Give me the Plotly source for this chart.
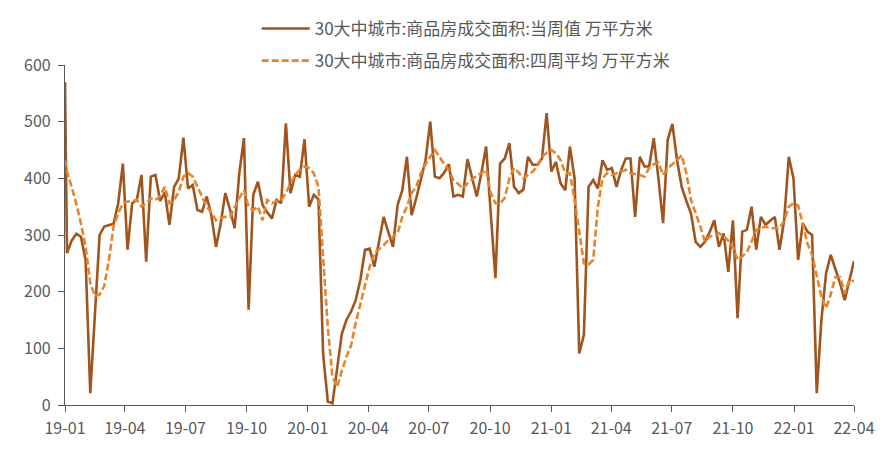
import datetime as dt
import plotly.graph_objects as go

# ---- data ----
series_names = ["30大中城市:商品房成交面积:当周值 万平方米",
                "30大中城市:商品房成交面积:四周平均 万平方米"]

first_date = "2019-01-01"
first_weekly = 570
first_avg = 432

weekly_values = [
    268, 290, 302, 297, 255, 21, 165, 300, 315, 318,
    320, 356, 426, 274, 356, 362, 406, 253, 403, 406,
    360, 375, 318, 385, 400, 472, 382, 388, 344, 341,
    368, 335, 279, 320, 374, 345, 312, 409, 471, 168,
    371, 394, 353, 340, 329, 362, 356, 497, 374, 406,
    403, 469, 350, 371, 363, 90, 6, 3, 60, 125,
    150, 165, 185, 221, 274, 276, 244, 290, 332, 305,
    279, 353, 379, 438, 335, 365, 397, 432, 500, 403,
    400, 410, 425, 368, 371, 368, 434, 403, 368, 410,
    456, 338, 224, 426, 435, 462, 385, 374, 380, 438,
    424, 424, 435, 515, 412, 429, 391, 379, 456, 400,
    91, 124, 385, 397, 382, 432, 415, 418, 385, 415,
    435, 435, 332, 438, 421, 421, 471, 400, 321, 468,
    496, 432, 385, 360, 338, 288, 279, 288, 305, 326,
    279, 303, 235, 326, 153, 306, 309, 350, 274, 332,
    318, 325, 332, 274, 326, 438, 400, 256, 321, 306,
    300, 21, 150, 232, 265, 240, 215, 185, 220, 254,
]

avg_values = [
    412, 385, 355, 320, 280, 215, 192, 195, 210, 256,
    315, 338, 356, 359, 359, 362, 350, 356, 365, 362,
    368, 385, 356, 362, 376, 403, 409, 403, 385, 368,
    350, 340, 326, 330, 332, 332, 350, 365, 379, 350,
    344, 350, 326, 362, 356, 360, 362, 374, 391, 406,
    415, 421, 418, 409, 385, 256, 138, 50, 32, 60,
    85, 105, 145, 178, 212, 244, 268, 275, 282, 291,
    297, 303, 332, 350, 374, 385, 409, 425, 438, 450,
    438, 425, 415, 397, 390, 382, 391, 398, 405, 409,
    415, 374, 356, 356, 365, 400, 418, 410, 400, 406,
    412, 421, 438, 445, 450, 444, 432, 409, 409, 362,
    303, 250, 248, 256, 350, 400, 409, 406, 409, 412,
    415, 409, 408, 406, 403, 418, 425, 428, 406, 418,
    425, 432, 441, 409, 362, 340, 315, 288, 297, 300,
    303, 297, 290, 279, 256, 262, 270, 288, 309, 312,
    315, 312, 312, 312, 325, 350, 356, 352, 320, 285,
    265, 230, 191, 171, 195, 226, 226, 197, 221, 218,
]

tick_dates = ["2019-01-01", "2019-04-01", "2019-07-01", "2019-10-01",
              "2020-01-01", "2020-04-01", "2020-07-01", "2020-10-01",
              "2021-01-01", "2021-04-01", "2021-07-01", "2021-10-01",
              "2022-01-01", "2022-04-01"]
tick_labels = ["19-01", "19-04", "19-07", "19-10", "20-01", "20-04", "20-07",
               "20-10", "21-01", "21-04", "21-07", "21-10", "22-01", "22-04"]

y_ticks = [0, 100, 200, 300, 400, 500, 600]

# ---- build dates: a leading point then weekly (Fridays) ----
start = dt.date(2019, 1, 4)
weekly_dates = [(start + dt.timedelta(days=7 * i)).isoformat() for i in range(len(weekly_values))]
dates = [first_date] + weekly_dates
solid = [first_weekly] + weekly_values
dashed = [first_avg] + avg_values

fig = go.Figure()
fig.add_trace(go.Scatter(x=dates, y=solid, mode="lines", name=series_names[0],
                         legendgroup="a",
                         line=dict(color="#A0541E", width=2.6)))
fig.add_trace(go.Scatter(x=dates, y=dashed, mode="lines", name=series_names[1],
                         legendgroup="b",
                         line=dict(color="#E5862F", width=2.6, dash="7px,3px")))

font_fam = "Noto Sans CJK SC, Noto Sans, sans-serif"
fig.update_layout(
    width=883, height=452,
    margin=dict(l=57, r=37, t=57, b=55, autoexpand=False),
    paper_bgcolor="white", plot_bgcolor="white",
    font=dict(family=font_fam, size=16, color="#595959"),
    showlegend=True,
    legend=dict(orientation="v", x=0.243, xanchor="left", y=1.159, yanchor="top",
                font=dict(size=17, color="#595959"), bgcolor="rgba(0,0,0,0)",
                tracegroupgap=7, itemwidth=48),
)
fig.update_xaxes(
    type="date", range=["2019-01-01", "2022-04-01"],
    tickvals=tick_dates, ticktext=tick_labels,
    showline=True, linecolor="#595959", linewidth=1.2,
    ticks="outside", ticklen=6, tickcolor="#595959",
    ticklabelstandoff=3,
    showgrid=False, zeroline=False,
    tickfont=dict(size=16, color="#595959"),
)
fig.update_yaxes(
    range=[0, 600], tickvals=y_ticks,
    showline=True, linecolor="#595959", linewidth=1.2,
    ticks="outside", ticklen=6, tickcolor="#595959",
    ticklabelstandoff=4,
    showgrid=False, zeroline=False,
    tickfont=dict(size=16, color="#595959"),
)

fig.write_html("out.html")
